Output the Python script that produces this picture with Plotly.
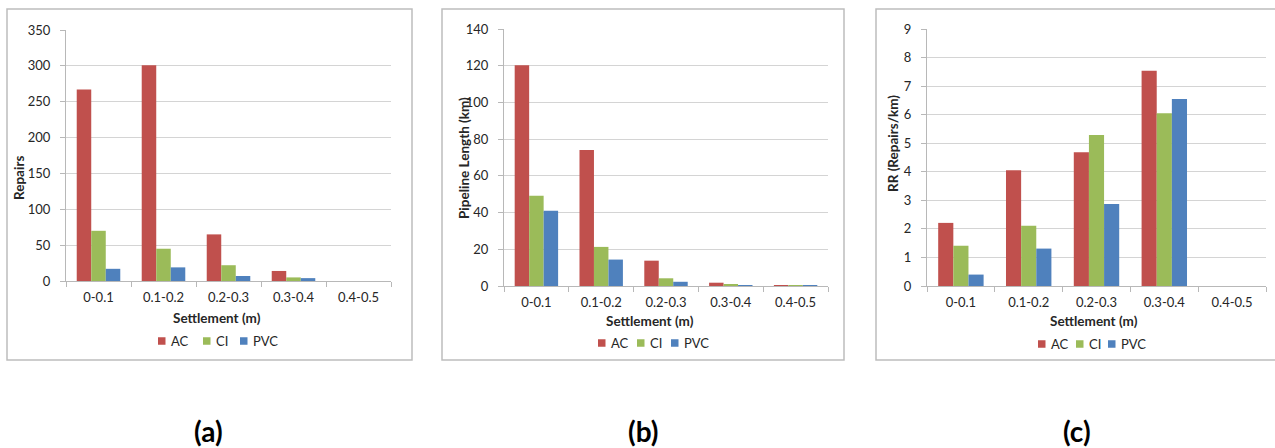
import plotly.graph_objects as go

# Settlement bins shared by all three panels
categories = ["0-0.1", "0.1-0.2", "0.2-0.3", "0.3-0.4", "0.4-0.5"]
materials = ["AC", "CI", "PVC"]

# (a) number of repairs
repairs_ac = [267, 301, 65, 14, 0]
repairs_ci = [70, 45, 22, 5, 0]
repairs_pvc = [17, 19, 7, 4, 0]

# (b) pipeline length (km)
length_ac = [120.2, 74.1, 13.8, 1.8, 0.3]
length_ci = [49.2, 21.3, 4.2, 0.7, 0.3]
length_pvc = [41.0, 14.4, 2.3, 0.5, 0.3]

# (c) repair rate (repairs/km)
rr_ac = [2.21, 4.05, 4.68, 7.54, 0]
rr_ci = [1.41, 2.11, 5.29, 6.05, 0]
rr_pvc = [0.40, 1.31, 2.87, 6.55, 0]

y_titles = ["Repairs", "Pipeline Length (km)", "RR (Repairs/km)"]
y_ranges = [[0, 350], [0, 140], [0, 9]]
y_dticks = [50, 20, 1]
panel_tags = ["(a)", "(b)", "(c)"]

colors = {"AC": "#C0504D", "CI": "#9BBB59", "PVC": "#4F81BD"}

W, H = 1275, 448
FONT = "Lato, 'Open Sans', sans-serif"
TEXT = "#262626"
GRID = "#d4d4d4"
AXIS = "#b8b8b8"
BORDER = "#bdbdbd"
TICK_SIZE = 13
TITLE_SIZE = 13.5
LEGEND_SIZE = 13


def px(x):
    return x / W


def py(y):
    return 1 - y / H


# Panel geometry in pixels: plot area (left, right, top, bottom), frame box,
# axis-title anchors, legend key row (left edges of the keys, centre line)
panels = [
    dict(plot=(66, 391, 30, 281), box=(7, 412, 9, 360),
         ytitle=(19, 178), xtitle=(217, 318),
         keys=(158, 203, 240), key_y=341, tag=(208, 431)),
    dict(plot=(504, 828, 29, 286), box=(442, 844, 9, 360),
         ytitle=(464, 158), xtitle=(650, 321),
         keys=(598, 637, 671), key_y=343, tag=(643, 431)),
    dict(plot=(927, 1266, 29, 286), box=(876, 1290, 9, 360),
         ytitle=(893, 144), xtitle=(1094, 321),
         keys=(1038, 1076, 1108), key_y=344, tag=(1077, 431)),
]

series = [
    [repairs_ac, repairs_ci, repairs_pvc],
    [length_ac, length_ci, length_pvc],
    [rr_ac, rr_ci, rr_pvc],
]

KEY = 7.5  # legend swatch size

fig = go.Figure()
layout = dict(
    template="none",
    width=W, height=H, margin=dict(l=0, r=0, t=0, b=0, pad=0, autoexpand=False),
    paper_bgcolor="white", plot_bgcolor="white",
    barmode="group", bargap=0.33, bargroupgap=0,
    font=dict(family=FONT, size=12, color=TEXT),
    showlegend=False,
    shapes=[], annotations=[],
)

for i, (p, data) in enumerate(zip(panels, series)):
    n = "" if i == 0 else str(i + 1)
    for mat, vals in zip(materials, data):
        fig.add_trace(go.Bar(
            x=categories, y=vals, name=mat,
            marker=dict(color=colors[mat], line=dict(width=0)),
            xaxis="x" + n, yaxis="y" + n,
        ))

    l, r, t, b = p["plot"]
    layout["xaxis" + n] = dict(
        domain=[px(l), px(r)], anchor="y" + n, automargin=False,
        type="category", showgrid=False,
        showline=True, linecolor=AXIS, linewidth=1,
        ticks="outside", tickson="boundaries", ticklen=5,
        tickcolor=AXIS, tickwidth=1, ticklabelstandoff=4,
        tickfont=dict(size=TICK_SIZE, color=TEXT),
    )
    layout["yaxis" + n] = dict(
        domain=[py(b), py(t)], anchor="x" + n, automargin=False,
        range=y_ranges[i], dtick=y_dticks[i],
        showgrid=True, gridcolor=GRID, gridwidth=1,
        showline=True, linecolor=AXIS, linewidth=1,
        ticks="outside", ticklen=5, tickcolor=AXIS, tickwidth=1,
        ticklabelstandoff=7, zeroline=False,
        tickfont=dict(size=TICK_SIZE, color=TEXT),
    )

    # legend keys: coloured swatch followed by the material name
    for mat, kx in zip(materials, p["keys"]):
        ky = p["key_y"]
        layout["shapes"].append(dict(
            type="rect", xref="paper", yref="paper",
            x0=px(kx), x1=px(kx + KEY), y0=py(ky + KEY / 2), y1=py(ky - KEY / 2),
            fillcolor=colors[mat], line=dict(width=0),
        ))
        layout["annotations"].append(dict(
            text=mat, x=px(kx + KEY + 3), y=py(ky),
            xref="paper", yref="paper", showarrow=False,
            xanchor="left", yanchor="middle",
            font=dict(size=LEGEND_SIZE, color=TEXT),
        ))

    bx0, bx1, by0, by1 = p["box"]
    layout["shapes"].append(dict(
        type="rect", xref="paper", yref="paper",
        x0=px(bx0), x1=px(bx1), y0=py(by1), y1=py(by0),
        line=dict(color=BORDER, width=1.5), fillcolor="rgba(0,0,0,0)", layer="below",
    ))

    tx, ty = p["ytitle"]
    layout["annotations"].append(dict(
        text="<b>%s</b>" % y_titles[i], x=px(tx), y=py(ty),
        xref="paper", yref="paper", textangle=-90, showarrow=False,
        xanchor="center", yanchor="middle", font=dict(size=TITLE_SIZE, color=TEXT),
    ))
    sx, sy = p["xtitle"]
    layout["annotations"].append(dict(
        text="<b>Settlement (m)</b>", x=px(sx), y=py(sy),
        xref="paper", yref="paper", showarrow=False,
        xanchor="center", yanchor="middle", font=dict(size=TITLE_SIZE, color=TEXT),
    ))
    gx, gy = p["tag"]
    layout["annotations"].append(dict(
        text="<b>%s</b>" % panel_tags[i], x=px(gx), y=py(gy),
        xref="paper", yref="paper", showarrow=False,
        xanchor="center", yanchor="middle",
        font=dict(size=28, color="#000000"),
    ))

fig.update_layout(**layout)
fig.write_html("out.html")
